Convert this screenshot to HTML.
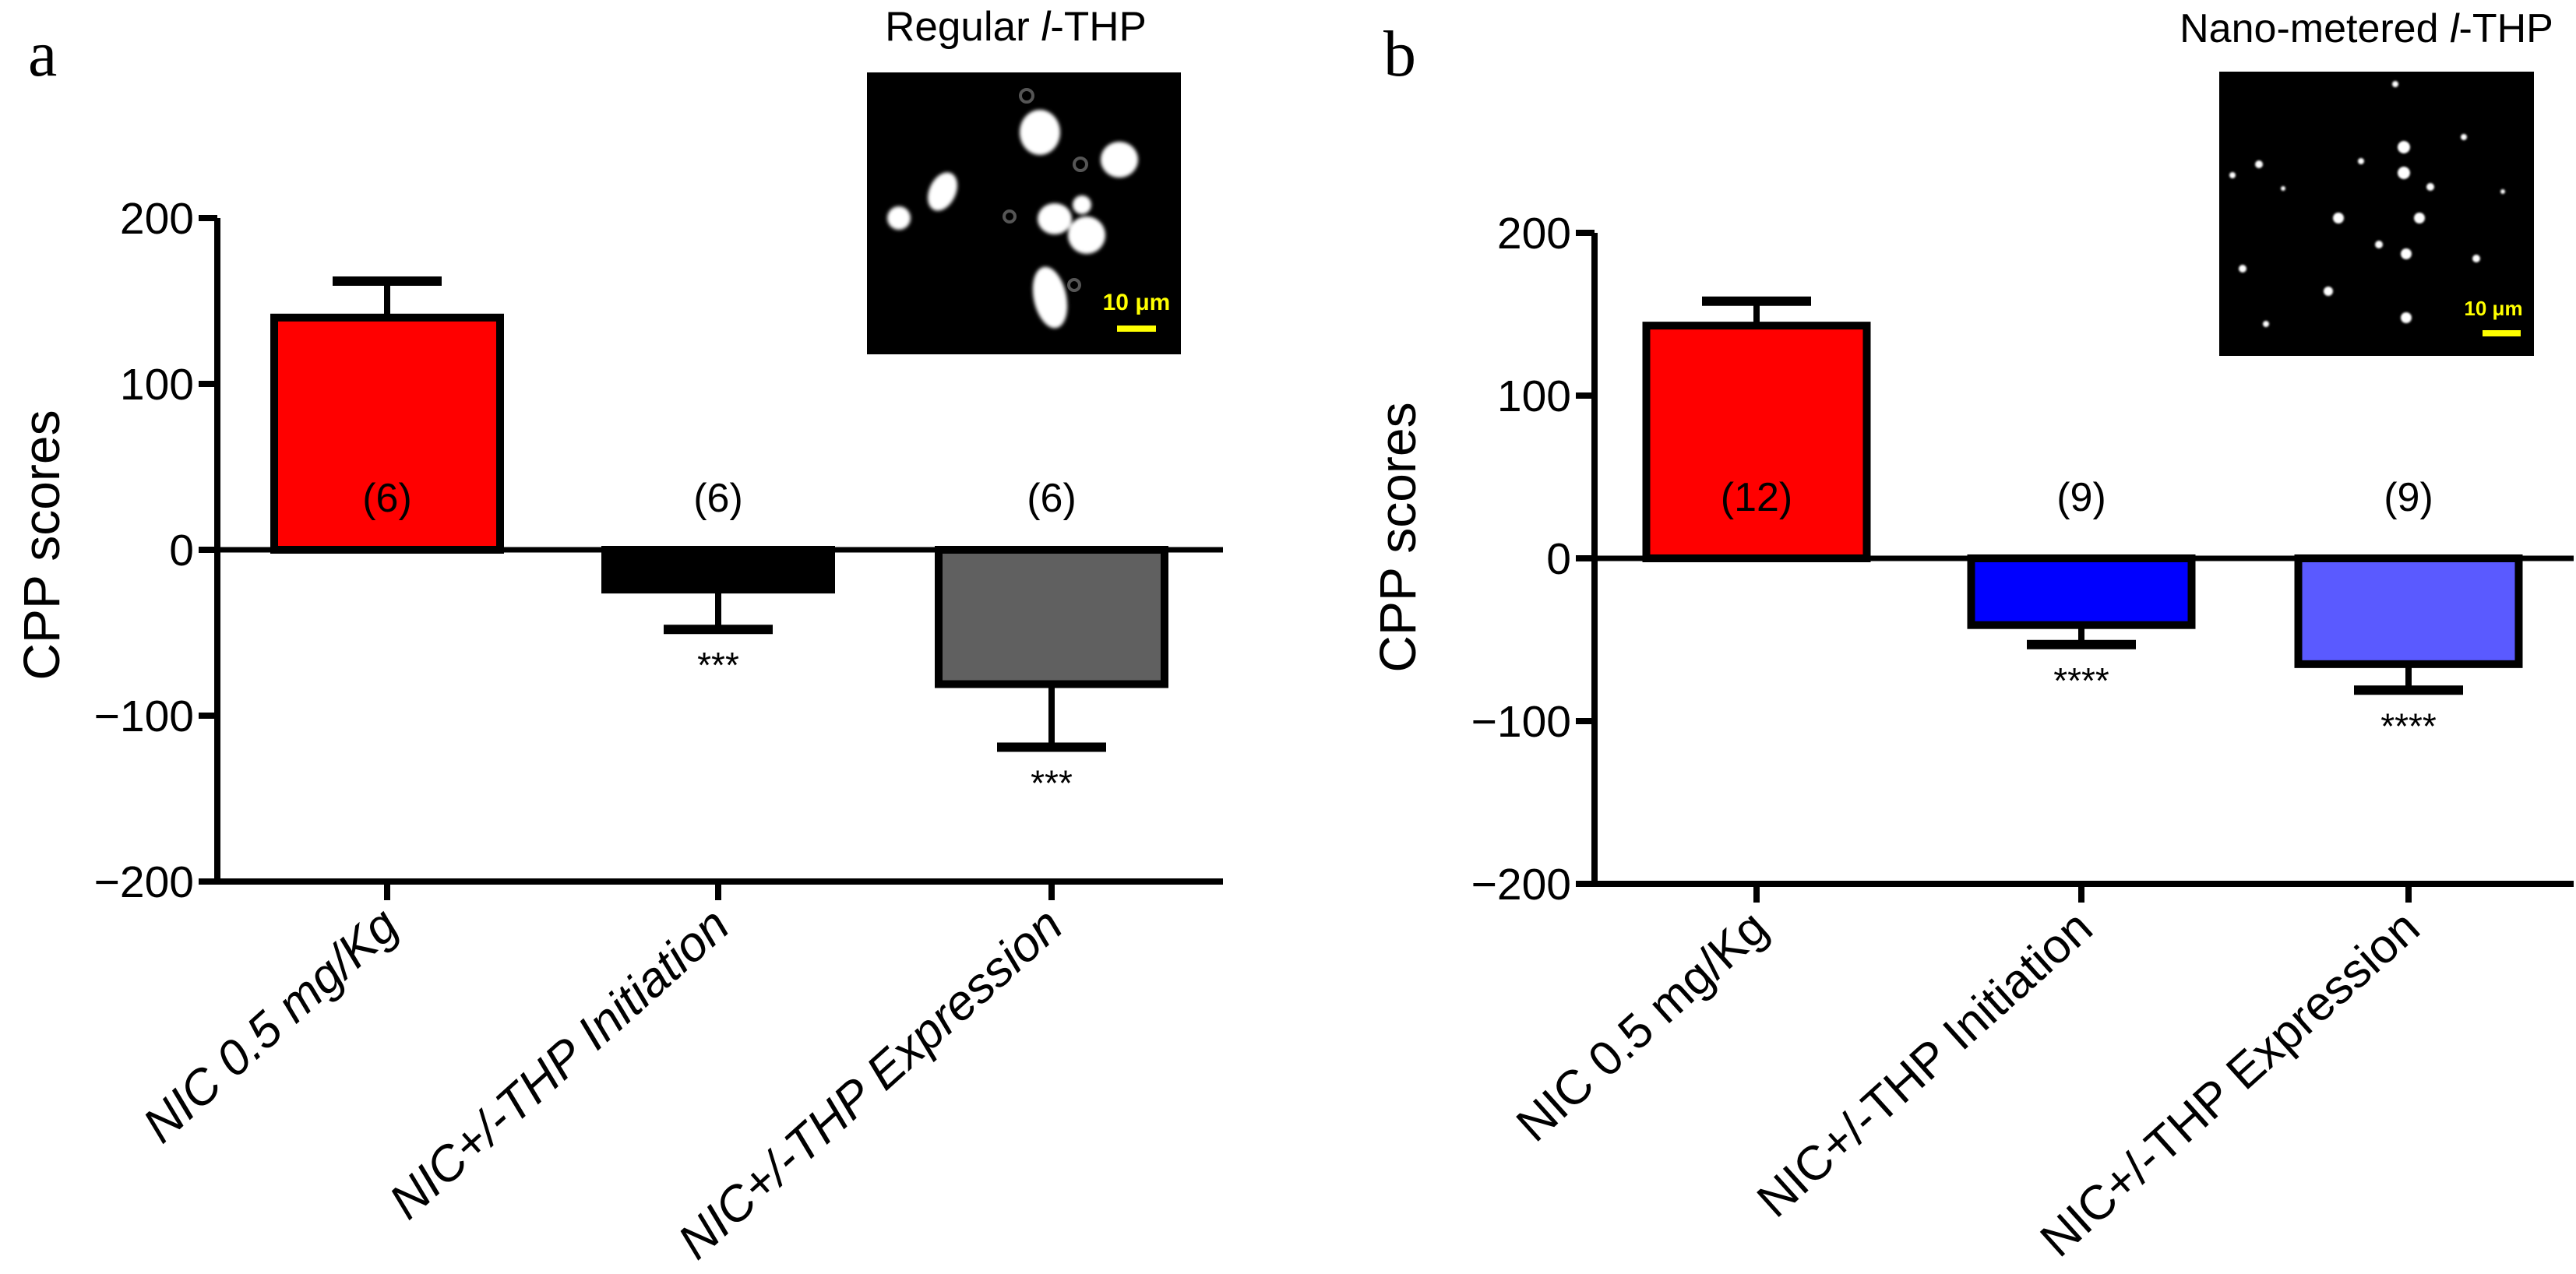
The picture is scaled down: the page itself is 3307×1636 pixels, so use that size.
<!DOCTYPE html>
<html><head><meta charset="utf-8"><style>
html,body{margin:0;padding:0;background:#fff;}
svg{display:block;font-family:"Liberation Sans",Arial,sans-serif;}
</style></head><body>
<svg id="fig" width="3307" height="1636" viewBox="0 0 3307 1636" xmlns="http://www.w3.org/2000/svg">
<text x="36" y="97" font-family="Liberation Serif,serif" font-size="84">a</text>
<text x="1776" y="97" font-family="Liberation Serif,serif" font-size="84">b</text>
<g>
<text x="1304" y="52" font-size="53" text-anchor="middle">Regular <tspan font-style="italic">l</tspan>-THP</text>
<rect x="1113" y="93" width="403" height="362" fill="#000"/>
<g fill="#fff" filter="url(#blur)">
<ellipse cx="1335" cy="170" rx="26" ry="29"/><ellipse cx="1437" cy="205" rx="24" ry="23"/>
<ellipse cx="1210" cy="246" rx="17" ry="26" transform="rotate(25 1210 246)"/><ellipse cx="1154" cy="280" rx="15" ry="15"/>
<ellipse cx="1354" cy="281" rx="22" ry="20"/><ellipse cx="1389" cy="263" rx="12" ry="12"/>
<ellipse cx="1395" cy="302" rx="24" ry="24"/><ellipse cx="1348" cy="382" rx="21" ry="40" transform="rotate(-12 1348 382)"/>
</g>
<g fill="none" stroke="#555" stroke-width="4">
<circle cx="1318" cy="123" r="8"/><circle cx="1387" cy="211" r="8"/><circle cx="1296" cy="278" r="7"/><circle cx="1379" cy="366" r="7"/>
</g>
<text x="1459" y="398" font-size="30" font-weight="bold" fill="#ffff00" text-anchor="middle">10 μm</text>
<rect x="1434" y="418" width="50" height="8" fill="#ffff00"/>
</g>
<g>
<text x="3038" y="54" font-size="52" text-anchor="middle">Nano-metered <tspan font-style="italic">l</tspan>-THP</text>
<rect x="2849" y="92" width="404" height="365" fill="#000"/>
<g fill="#fff" filter="url(#blur2)" id="dots"></g>
<text x="3201" y="405" font-size="26" font-weight="bold" fill="#ffff00" text-anchor="middle">10 μm</text>
<rect x="3187" y="424" width="49" height="8" fill="#ffff00"/>
</g>
<defs>
<filter id="blur"><feGaussianBlur stdDeviation="2.5"/></filter>
<filter id="blur2"><feGaussianBlur stdDeviation="1.2"/></filter>
</defs>
</svg>
<script>
const NS="http://www.w3.org/2000/svg";
const svg=document.getElementById('fig');
const categories=["NIC 0.5 mg/Kg","NIC+/-THP  Initiation","NIC+/-THP  Expression"];
const valuesA=[140,-24,-81];
const errorsA=[22,24,38];
const nA=["(6)","(6)","(6)"];
const starsA=["","***","***"];
const colorsA=["#ff0000","#000000","#606060"];
const valuesB=[143,-41,-65];
const errorsB=[15,12,16];
const nB=["(12)","(9)","(9)"];
const starsB=["","****","****"];
const colorsB=["#ff0000","#0000ff","#5a5aff"];
const yTicks=[200,100,0,-100,-200];
const yTickLabels=["200","100","0","\u2212100","\u2212200"];
const dotsB=[[3075,108,4],[2866,225,4],[2900,211,5],[2931,242,3],[3031,207,4],[3086,189,8],[3086,222,8],[3120,240,5],[3163,176,4],[3213,246,3],[3002,280,7],[3106,280,7],[3054,314,5],[3089,326,7],[3179,332,5],[2879,345,5],[2989,374,6],[3089,408,7],[2909,416,4]];
const dg=document.getElementById('dots');
dotsB.forEach(d=>{const c=document.createElementNS(NS,'circle');c.setAttribute('cx',d[0]);c.setAttribute('cy',d[1]);c.setAttribute('r',d[2]);dg.appendChild(c);});
function el(tag,attrs,parent){const e=document.createElementNS(NS,tag);for(const k in attrs)e.setAttribute(k,attrs[k]);(parent||svg).appendChild(e);return e;}
function panel(p){
  const y=v=>p.y0-(v)*p.k;
  const g=el('g',{});
  
  
  categories.forEach((c,i)=>{
    const cx=p.xc[i], v=p.vals[i], e=p.errs[i];
    const top=Math.min(y(v),y(0)), h=Math.abs(y(v)-y(0));
    const ey=v>=0?y(v+e):y(v-e), ey0=y(v);
    const ln=el('line',{x1:cx,x2:cx,y1:ey0,y2:ey,stroke:'#000','stroke-width':8},g);
    
    
    const cap=el('line',{x1:cx-70,x2:cx+70,y1:ey,y2:ey,stroke:'#000','stroke-width':12},g);
    
    
    const r=el('rect',{x:cx-p.bw/2,y:top,width:p.bw,height:h,fill:p.cols[i],stroke:'#000','stroke-width':10},g);
    
    
    const t=el('text',{x:cx,y:p.nY,'font-size':52,'text-anchor':'middle'},g);t.textContent=p.ns[i];
    
    
    if(p.stars[i]){const s=el('text',{x:cx,y:ey+62,'font-size':46,'text-anchor':'middle'},g);s.textContent=p.stars[i];
      
      }
    const tk=el('line',{x1:cx,x2:cx,y1:y(-200),y2:y(-200)+24,stroke:'#000','stroke-width':8},g);
    
    
    const lab=el('text',{x:0,y:0,'font-size':p.lfs,'text-anchor':'end',transform:`translate(${cx+18},${y(-200)+62}) rotate(-42)`,'font-style':p.italic?'italic':'normal'},g);
    lab.textContent=c;
    
    
  });
  const ya=el('line',{x1:p.ax,x2:p.ax,y1:y(200),y2:y(-200)+4,stroke:'#000','stroke-width':8},g);
  
  
  const xa=el('line',{x1:p.ax-4,x2:p.xEnd,y1:y(-200),y2:y(-200),stroke:'#000','stroke-width':8},g);
  
  
  const zl=el('line',{x1:p.ax,x2:p.xEnd,y1:y(0),y2:y(0),stroke:'#000','stroke-width':7},g);
  
  
  yTicks.forEach((v,i)=>{
    const t=el('line',{x1:p.ax-24,x2:p.ax,y1:y(v),y2:y(v),stroke:'#000','stroke-width':8},g);
    
    
    const l=el('text',{x:p.ax-30,y:y(v)+20,'font-size':57,'text-anchor':'end'},g);l.textContent=yTickLabels[i];
    
    
  });
  const yt=el('text',{x:0,y:0,'font-size':66,'text-anchor':'middle',transform:`translate(${p.ylx},${p.yly}) rotate(-90)`},g);
  yt.textContent='CPP scores';
  
  
}
panel({name:'panel-a',y0:706,k:2.13,ax:279,xEnd:1570,xc:[497,922,1350],bw:290,vals:valuesA,errs:errorsA,ns:nA,stars:starsA,cols:colorsA,nY:657,ylx:76,yly:700,lfs:63,italic:true});
panel({name:'panel-b',y0:717,k:2.09,ax:2047,xEnd:3304,xc:[2255,2672,3092],bw:283,vals:valuesB,errs:errorsB,ns:nB,stars:starsB,cols:colorsB,nY:656,ylx:1817,yly:690,lfs:62,italic:false});
</script>
</body></html>
